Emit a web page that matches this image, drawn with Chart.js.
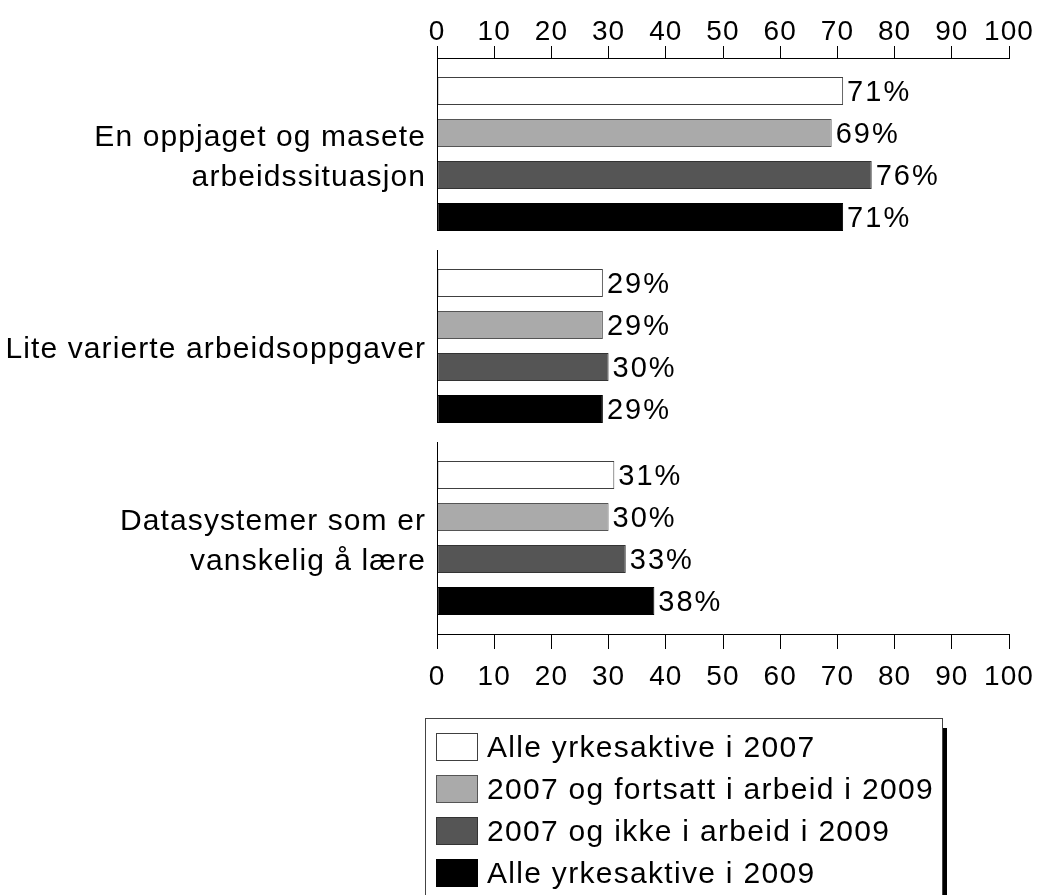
<!DOCTYPE html>
<html>
<head>
<meta charset="utf-8">
<script src="https://cdn.jsdelivr.net/npm/chart.js@4/dist/chart.umd.min.js"></script>
<style>
  html, body { margin: 0; padding: 0; background: #fff; }
  #wrap { width: 1039px; height: 895px; position: relative; }
</style>
</head>
<body>
<div id="wrap"><canvas id="c" width="1039" height="895"></canvas></div>
<script>
// Categories (multi-line labels as arrays)
const categories = [
  ['En oppjaget og masete', 'arbeidssituasjon'],
  'Lite varierte arbeidsoppgaver',
  ['Datasystemer som er', 'vanskelig å lære']
];

// Series names
const seriesNames = [
  'Alle yrkesaktive i 2007',
  '2007 og fortsatt i arbeid i 2009',
  '2007 og ikke i arbeid i 2009',
  'Alle yrkesaktive i 2009'
];

// Series values (percent)
const alle2007 = [71, 29, 31];
const fortsatt2009 = [69, 29, 30];
const ikkeArbeid2009 = [76, 30, 33];
const alle2009 = [71, 29, 38];

// Axis ticks
const xTicks = [0, 10, 20, 30, 40, 50, 60, 70, 80, 90, 100];

const FONT = "'Liberation Sans', Arial, Helvetica, sans-serif";
const fills = ['#ffffff', '#aaaaaa', '#555555', '#000000'];
const borders = ['#404040', '#555555', '#333333', '#000000'];
const seriesValues = [alle2007, fortsatt2009, ikkeArbeid2009, alle2009];

const datasets = seriesValues.map((vals, i) => ({
  label: seriesNames[i],
  data: vals,
  backgroundColor: fills[i],
  borderColor: borders[i],
  borderWidth: 1,
  borderSkipped: false,
  categoryPercentage: 0.875,
  barPercentage: 0.667
}));

// Slightly widened lettering for all axis text
const textSpacing = {
  id: 'textSpacing',
  beforeDraw(chart) { chart.ctx.letterSpacing = '1.1px'; }
};

// Value labels to the right of each bar
const valueLabels = {
  id: 'valueLabels',
  afterDatasetsDraw(chart) {
    const ctx = chart.ctx;
    ctx.save();
    ctx.letterSpacing = '2px';
    ctx.font = '29px ' + FONT;
    ctx.fillStyle = '#000';
    ctx.textAlign = 'left';
    ctx.textBaseline = 'middle';
    chart.data.datasets.forEach((ds, di) => {
      const meta = chart.getDatasetMeta(di);
      meta.data.forEach((el, i) => {
        ctx.fillText(ds.data[i] + '%', el.x + 4, el.y + 2);
      });
    });
    ctx.restore();
  }
};

// Vertical axis line drawn per category group, with gaps between groups
const groupAxis = {
  id: 'groupAxis',
  afterDatasetsDraw(chart) {
    const ctx = chart.ctx;
    const area = chart.chartArea;
    const n = chart.data.labels.length;
    const band = (area.bottom - area.top) / n;
    const lastMeta = chart.getDatasetMeta(chart.data.datasets.length - 1);
    ctx.save();
    ctx.strokeStyle = '#000';
    ctx.lineWidth = 1;
    for (let i = 0; i < n; i++) {
      const top = area.top + i * band;
      let bottom;
      if (i === n - 1) {
        bottom = area.bottom;
      } else {
        const el = lastMeta.data[i];
        bottom = el.y + el.height / 2;
      }
      ctx.beginPath();
      ctx.moveTo(area.left + 0.5, Math.round(top));
      ctx.lineTo(area.left + 0.5, Math.round(bottom));
      ctx.stroke();
    }
    ctx.restore();
  }
};

// Boxed legend with a drop shadow on the right edge
const boxLegend = {
  id: 'boxLegend',
  afterDraw(chart) {
    const ctx = chart.ctx;
    const x0 = 425, y0 = 718, x1 = 942, y1 = 905;
    ctx.save();
    ctx.fillStyle = '#000';
    ctx.fillRect(x1 + 1, y0 + 10, 4, y1 - y0);
    ctx.fillStyle = '#fff';
    ctx.fillRect(x0, y0, x1 - x0, y1 - y0);
    ctx.strokeStyle = '#444';
    ctx.lineWidth = 1;
    ctx.strokeRect(x0 + 0.5, y0 + 0.5, x1 - x0, y1 - y0);
    ctx.letterSpacing = '1.3px';
    ctx.font = '30px ' + FONT;
    ctx.textAlign = 'left';
    ctx.textBaseline = 'middle';
    chart.data.datasets.forEach((ds, i) => {
      const cy = 747 + i * 42;
      ctx.fillStyle = ds.backgroundColor;
      ctx.fillRect(436, cy - 14, 42, 28);
      ctx.strokeStyle = ds.borderColor;
      ctx.strokeRect(436.5, cy - 13.5, 41, 27);
      ctx.fillStyle = '#000';
      ctx.fillText(ds.label, 487, cy + 2);
    });
    ctx.restore();
  }
};

const xAxisCommon = (pos, tickLen, pad) => ({
  type: 'linear',
  position: pos,
  min: 0,
  max: 100,
  afterBuildTicks(scale) { scale.ticks = xTicks.map(v => ({ value: v })); },
  ticks: { font: { family: FONT, size: 28, lineHeight: 1 }, color: '#000', padding: pad, maxRotation: 0, autoSkip: false },
  grid: { drawOnChartArea: false, drawTicks: true, tickLength: tickLen, color: '#000', lineWidth: 1 },
  border: { display: true, color: '#000', width: 1 }
});

// Keep the plot edges fixed regardless of tick label overhang
function fixHorizontal(scale, h) {
  scale.height = h;
  scale.paddingLeft = 0;
  scale.paddingRight = 0;
}

new Chart(document.getElementById('c'), {
  type: 'bar',
  data: { labels: categories, datasets },
  options: {
    indexAxis: 'y',
    responsive: false,
    animation: false,
    layout: { padding: { left: 0, right: 30, top: 0, bottom: 0 } },
    plugins: { legend: { display: false }, tooltip: { enabled: false } },
    scales: {
      x: Object.assign(xAxisCommon('bottom', 15, 14), {
        afterFit(scale) { fixHorizontal(scale, 261); }
      }),
      x2: Object.assign(xAxisCommon('top', 12, 0), {
        afterFit(scale) { fixHorizontal(scale, 58); }
      }),
      y: {
        type: 'category',
        position: 'left',
        grid: { display: false, drawTicks: false },
        border: { display: false },
        ticks: { font: { family: FONT, size: 30, lineHeight: 1.33 }, color: '#000', padding: 11, labelOffset: 4 },
        afterFit(scale) { scale.width = 437; scale.paddingTop = 0; scale.paddingBottom = 0; }
      }
    }
  },
  plugins: [textSpacing, valueLabels, groupAxis, boxLegend]
});
</script>
</body>
</html>
